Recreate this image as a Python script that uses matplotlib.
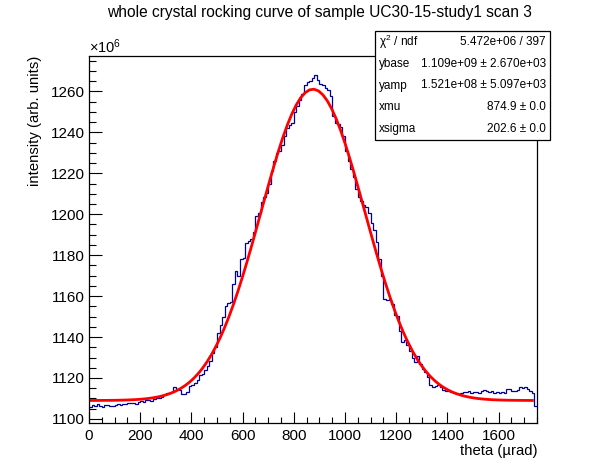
import numpy as np
import matplotlib
matplotlib.use("Agg")
import matplotlib.pyplot as plt
from matplotlib.patches import Rectangle
from matplotlib.ticker import MultipleLocator

plt.rcParams['font.family'] = ['Liberation Sans', 'DejaVu Sans']
plt.rcParams['mathtext.fontset'] = 'custom'
plt.rcParams['mathtext.rm'] = 'Liberation Sans'
plt.rcParams['mathtext.it'] = 'Liberation Sans'

# ---- data (intensity in units of 1e6, histogram bins 10 urad wide) ----
bin_edges_start = 0
bin_width = 10
counts = [
    1106.0, 1106.8, 1106.3, 1107.2, 1106.5, 1106.0, 1106.7, 1107.0, 1106.2, 1106.5,
    1106.9, 1107.3, 1107.0, 1107.5, 1107.2, 1107.8, 1107.6, 1108.0, 1107.4, 1108.2,
    1108.8, 1108.4, 1109.0, 1109.4, 1108.9, 1109.6, 1110.2, 1110.0, 1110.8, 1111.5,
    1112.8, 1112.5, 1113.2, 1115.4, 1114.8, 1114.0, 1112.3, 1112.0, 1113.0, 1116.0,
    1116.5, 1117.6, 1119.0, 1121.5, 1122.0, 1124.0, 1126.0, 1128.5, 1132.0, 1135.0,
    1142.0, 1146.0, 1150.0, 1155.0, 1156.5, 1157.0, 1166.0, 1172.5, 1170.0, 1178.0,
    1178.5, 1186.0, 1187.0, 1188.0, 1191.5, 1199.0, 1200.5, 1206.0, 1208.5, 1210.5,
    1215.0, 1221.0, 1226.0, 1230.0, 1231.0, 1234.0, 1238.0, 1242.0, 1243.5, 1244.5,
    1250.0, 1253.0, 1256.0, 1258.5, 1263.0, 1264.5, 1265.0, 1266.5, 1268.0, 1265.5,
    1263.5, 1263.0, 1261.5, 1260.5, 1258.0, 1248.0, 1244.5, 1244.0, 1242.5, 1238.0,
    1231.0, 1226.0, 1222.0, 1218.0, 1212.5, 1208.5, 1206.5, 1204.5, 1203.5, 1200.5,
    1195.5, 1192.5, 1186.5, 1178.0, 1170.0, 1158.5, 1158.0, 1158.5, 1156.0, 1151.0,
    1150.5, 1143.0, 1137.5, 1138.5, 1136.0, 1133.0, 1130.0, 1128.0, 1130.5, 1127.0,
    1124.5, 1123.0, 1120.5, 1116.5, 1115.5, 1116.0, 1116.5, 1115.5, 1114.3, 1113.8,
    1113.5, 1113.0, 1112.5, 1112.7, 1112.2, 1112.6, 1113.2, 1113.0, 1113.4, 1112.8,
    1113.3, 1113.0, 1112.9, 1113.5, 1114.2, 1113.8, 1113.0, 1113.4, 1112.9, 1113.1,
    1112.8, 1113.0, 1112.7, 1114.8, 1114.6, 1113.8, 1113.6, 1114.0, 1115.5, 1115.0,
    1115.4, 1114.5, 1113.5, 1112.5, 1106.5,
]

# fit parameters (from stats box)
ybase = 1.109e9
yamp = 1.521e8
xmu = 874.9
xsigma = 202.6
fit_range = (8, 1732)

stat_names = ["\u03c7$^{2}$ / ndf", "ybase", "yamp", "xmu", "xsigma"]
stat_values = ["5.472e+06 / 397", "1.109e+09 \u00b1 2.670e+03",
               "1.521e+08 \u00b1 5.097e+03", "874.9 \u00b1 0.0", "202.6 \u00b1 0.0"]

title = "whole crystal rocking curve of sample UC30-15-study1 scan 3"
xlabel = "theta (\u00b5rad)"
ylabel = "intensity (arb. units)"

W, H = 596, 472
fig = plt.figure(figsize=(W / 100, H / 100), dpi=100)
L, R, T, B = 89, 537, 56, 423
ax = fig.add_axes([L / W, 1 - B / H, (R - L) / W, (B - T) / H])

edges = bin_edges_start + bin_width * np.arange(len(counts) + 1)
ax.stairs(counts, edges, baseline=None, color='#000099', linewidth=0.9)

xf = np.linspace(fit_range[0], fit_range[1], 100)
yf = (ybase + yamp * np.exp(-0.5 * ((xf - xmu) / xsigma) ** 2)) / 1e6
ax.plot(xf, yf, color='#ff0000', linewidth=2.0)

ax.set_xlim(0, 1750)
ax.set_ylim(1098.0, 1277.3)

ax.xaxis.set_major_locator(MultipleLocator(200))
ax.xaxis.set_minor_locator(MultipleLocator(50))
ax.yaxis.set_major_locator(MultipleLocator(20))
ax.yaxis.set_minor_locator(MultipleLocator(5))
ax.tick_params(axis='both', which='both', direction='in', width=0.8,
               top=False, right=False, labelsize=11, colors='black')
ax.tick_params(axis='x', which='major', length=8.0, pad=4)
ax.tick_params(axis='x', which='minor', length=4.0)
ax.tick_params(axis='y', which='major', length=9.5, pad=3)
ax.tick_params(axis='y', which='minor', length=4.8)
for s in ax.spines.values():
    s.set_linewidth(0.9)

fig.text(319 / W, 1 - 13 / H, title, ha='center', va='center', fontsize=11.2)
fig.text(R / W, 1 - 451 / H, xlabel, ha='right', va='center', fontsize=10.7)
fig.text(35 / W, 1 - T / H, ylabel, ha='center', va='top', rotation=90, fontsize=10.7)
fig.text(L / W, 1 - 47 / H, r'$\times$10$^{6}$', ha='left', va='center', fontsize=10.5)

# stats box
bl, br, bt, bb = 375, 550, 31, 140
fig.patches.append(Rectangle((bl / W, 1 - bb / H), (br - bl) / W, (bb - bt) / H,
                             transform=fig.transFigure, facecolor='white',
                             edgecolor='black', linewidth=0.9, zorder=5))
rowh = (bb - bt) / len(stat_names)
for i, (n, v) in enumerate(zip(stat_names, stat_values)):
    yc = 1 - (bt + rowh * (i + 0.5)) / H
    fig.text((bl + 4) / W, yc, n, ha='left', va='center', fontsize=8.5, zorder=6)
    fig.text((br - 4) / W, yc, v, ha='right', va='center', fontsize=8.5, zorder=6)

fig.savefig("out.png", dpi=100, facecolor='white')
